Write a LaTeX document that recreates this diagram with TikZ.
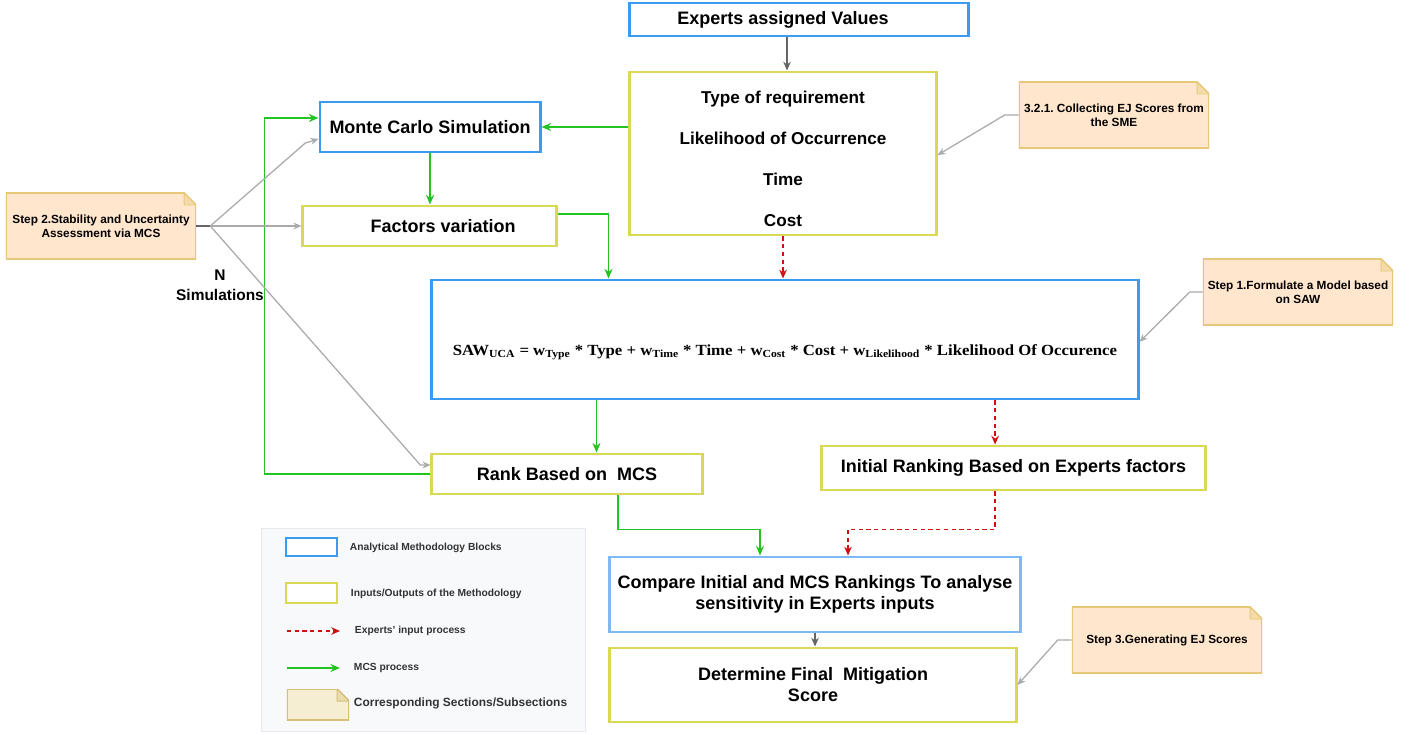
\documentclass[tikz,border=0pt]{standalone}
\usepackage{fontspec}
\setmainfont{Liberation Sans}
\newfontfamily\formulafont{Liberation Serif}
\usetikzlibrary{arrows.meta}
\frenchspacing
\definecolor{methodblue}{HTML}{3C9AF0}
\definecolor{compareblue}{HTML}{7DB9F2}
\definecolor{ioyellow}{HTML}{D9D955}
\definecolor{mcsgreen}{HTML}{22C322}
\definecolor{expertred}{HTML}{CC1111}
\definecolor{notefill}{HTML}{FFE6CC}
\definecolor{noteborder}{HTML}{E6C878}
\definecolor{keynotefill}{HTML}{F6EED2}
\definecolor{keynoteborder}{HTML}{D8BF7A}
\definecolor{legendfill}{HTML}{F8F9FB}
\definecolor{legendborder}{HTML}{E6E8EE}
\definecolor{linkgray}{HTML}{AAAAAA}
\definecolor{flowgray}{HTML}{666666}
\definecolor{keytextgray}{HTML}{333333}
\begin{document}
\begin{tikzpicture}[
		x=0.025cm, y=-0.025cm,
		methodbox/.style={draw=methodblue, line width=2.1pt, fill=white, align=center, font=\bfseries\fontsize{12.8}{15}\selectfont},
		iobox/.style={methodbox, draw=ioyellow},
		mcsflow/.style={draw=mcsgreen, line width=1.4pt, -{Stealth[length=2.4mm, width=2mm]}},
		expertflow/.style={draw=expertred, line width=1.1pt, dash pattern=on 3pt off 2.5pt, -{Stealth[length=2.2mm, width=1.9mm]}},
		grayflow/.style={draw=flowgray, line width=1.2pt, -{Stealth[length=2.2mm, width=1.9mm]}},
		notelink/.style={draw=linkgray, line width=0.9pt, -{Stealth[length=2mm, width=1.7mm]}},
		notebox/.style 2 args={
				minimum width=4.75cm, minimum height=1.65cm, align=center, font=\bfseries\fontsize{8.4}{10}\selectfont,
				path picture={
						\fill[#1] (path picture bounding box.south west) -- (path picture bounding box.north west) -- ([xshift=-0.3cm]path picture bounding box.north east) -- ([yshift=-0.3cm]path picture bounding box.north east) -- (path picture bounding box.south east) -- cycle;
						\draw[#2, line width=1.4pt] (path picture bounding box.south west) -- (path picture bounding box.north west) -- ([xshift=-0.3cm]path picture bounding box.north east) -- ([yshift=-0.3cm]path picture bounding box.north east) -- (path picture bounding box.south east) -- cycle;
						\filldraw[draw=#2, fill=#2!40!#1, line width=0.7pt] ([xshift=-0.3cm]path picture bounding box.north east) -- ([xshift=-0.3cm, yshift=-0.3cm]path picture bounding box.north east) -- ([yshift=-0.3cm]path picture bounding box.north east) -- cycle;
					}},
		keytext/.style={anchor=west, text=keytextgray, font=\bfseries\fontsize{7.3}{9}\selectfont},
	]
	\useasboundingbox (0,0) rectangle (1418,735);

	\node[methodbox, minimum width=8.45cm, minimum height=0.825cm] (experts) at (799,19.5) {Experts assigned Values\hspace*{0.8cm}};
	\node[iobox, minimum width=7.65cm, minimum height=4.075cm, font=\bfseries\fontsize{12.2}{14}\selectfont] (factors) at (783,153.5) {\raisebox{-0.19cm}[\height][\depth]{\begin{tabular}{@{}c@{}}Type of requirement\\[0.53cm]Likelihood of Occurrence\\[0.53cm]Time\\[0.53cm]Cost\end{tabular}}};
	\node[methodbox, minimum width=5.5cm, minimum height=1.25cm] (mcs) at (430,127) {Monte Carlo Simulation};
	\node[iobox, minimum width=6.325cm, minimum height=1cm] (variation) at (429.5,226) {\hspace*{0.68cm}Factors variation};
	\node[methodbox, minimum width=17.65cm, minimum height=2.975cm] (saw) at (785,339.5) {\raisebox{-0.4cm}[0pt][0pt]{\resizebox{16.6cm}{\height}{\formulafont\fontsize{11}{13}\selectfont SAW\textsubscript{UCA} = w\textsubscript{Type} * Type + w\textsubscript{Time} * Time + w\textsubscript{Cost} * Cost + w\textsubscript{Likelihood} * Likelihood Of Occurence}}};
	\node[iobox, minimum width=6.75cm, minimum height=1cm] (rank) at (567,474) {Rank Based on\ \ MCS};
	\node[iobox, minimum width=9.575cm, minimum height=1.1cm] (initial) at (1013.5,468) {Initial Ranking Based on Experts factors};
	\node[methodbox, draw=compareblue, inner sep=1pt, minimum width=10.25cm, minimum height=1.875cm] (compare) at (815,594.5) {Compare Initial and MCS Rankings To analyse\\sensitivity in Experts inputs};
	\node[iobox, minimum width=10.15cm, minimum height=1.85cm] (final) at (813,685) {Determine Final\ \ Mitigation\\Score};

	\node[notebox={notefill}{noteborder}] (step2) at (101,226) {Step 2.Stability and Uncertainty\\Assessment via MCS};
	\node[notebox={notefill}{noteborder}] (sec321) at (1114,115) {3.2.1. Collecting EJ Scores from\\the SME};
	\node[notebox={notefill}{noteborder}] (step1) at (1298,292) {Step 1.Formulate a Model based\\on SAW};
	\node[notebox={notefill}{noteborder}] (step3) at (1167,640) {Step 3.Generating EJ Scores};
	\node[align=center, font=\bfseries\fontsize{11}{14}\selectfont] (nsim) at (220,285) {N\\Simulations};

	\draw[grayflow] ([xshift=-0.3cm]experts.south) -- ([xshift=-0.3cm]experts.south |- factors.north);
	\draw[mcsflow] (factors.west |- mcs.east) -- (mcs.east);
	\draw[mcsflow] (mcs.south) -- (mcs.south |- variation.north);
	\draw[mcsflow] ([yshift=0.3cm]variation.east) -| ([xshift=4.45cm]saw.north west);
	\draw[expertflow] (factors.south) -- (factors.south |- saw.north);
	\draw[mcsflow] ([xshift=4.15cm]saw.south west) -- ([xshift=4.15cm]saw.south west |- rank.north);
	\draw[expertflow] ([xshift=-0.46cm]initial.north |- saw.south) -- ([xshift=-0.46cm]initial.north);
	\draw[mcsflow] (rank.west) -- ++(-166,0) |- ([yshift=0.225cm]mcs.west);
	\draw[mcsflow] ([xshift=1.275cm]rank.south) -- ++(0,34) -| ([xshift=-1.375cm]compare.north);
	\draw[expertflow] ([xshift=-0.46cm]initial.south) -- ++(0,38) -| ([xshift=0.825cm]compare.north);
	\draw[grayflow] (compare.south) -- (compare.south |- final.north);

	\draw[notelink] (sec321.west) -- ++(-14,0) -- ([yshift=-0.04cm]factors.east);
	\draw[notelink] (step1.west) -- ++(-13,0) -- ([yshift=-0.06cm]saw.east);
	\draw[notelink] (step3.west) -- ++(-14,0) -- (final.east);
	\draw[flowgray, line width=1pt] (step2.east) -- ++(14,0) coordinate (split);
	\draw[notelink] (split) -- ++(95,-83) -- ([yshift=-0.3cm]mcs.west);
	\draw[notelink] (split) -- (variation.west);
	\draw[notelink] (split) -- ++(210,239) -- ([yshift=0.225cm]rank.west);

	\node[draw=legendborder, fill=legendfill, minimum width=8.1cm, minimum height=5.075cm] (legend) at (423,629.5) {};
	\node[methodbox, line width=1.6pt, minimum width=1.275cm, minimum height=0.45cm] (keyblue) at (311.5,547) {};
	\node[keytext] (keybluetext) at (345,548) {Analytical Methodology Blocks};
	\node[iobox, line width=1.6pt, minimum width=1.275cm, minimum height=0.5cm] (keyyellow) at (311.5,593) {};
	\node[keytext] (keyyellowtext) at (346,594) {Inputs/Outputs of the Methodology};
	\coordinate (keyred) at (287,631);
	\coordinate (keyredend) at (340,631);
	\draw[expertflow] (keyred) -- (keyredend);
	\node[keytext] (keyredtext) at (350,631) {Experts' input process};
	\coordinate (keygreen) at (287,668);
	\coordinate (keygreenend) at (340,668);
	\draw[mcsflow] (keygreen) -- (keygreenend);
	\node[keytext] (keygreentext) at (349,668) {MCS process};
	\node[notebox={keynotefill}{keynoteborder}, minimum width=1.55cm, minimum height=0.775cm] (keynote) at (318,704.5) {};
	\node[keytext, font=\bfseries\fontsize{8.5}{10}\selectfont] (keynotetext) at (349,703) {Corresponding Sections/Subsections};
\end{tikzpicture}
\end{document}
